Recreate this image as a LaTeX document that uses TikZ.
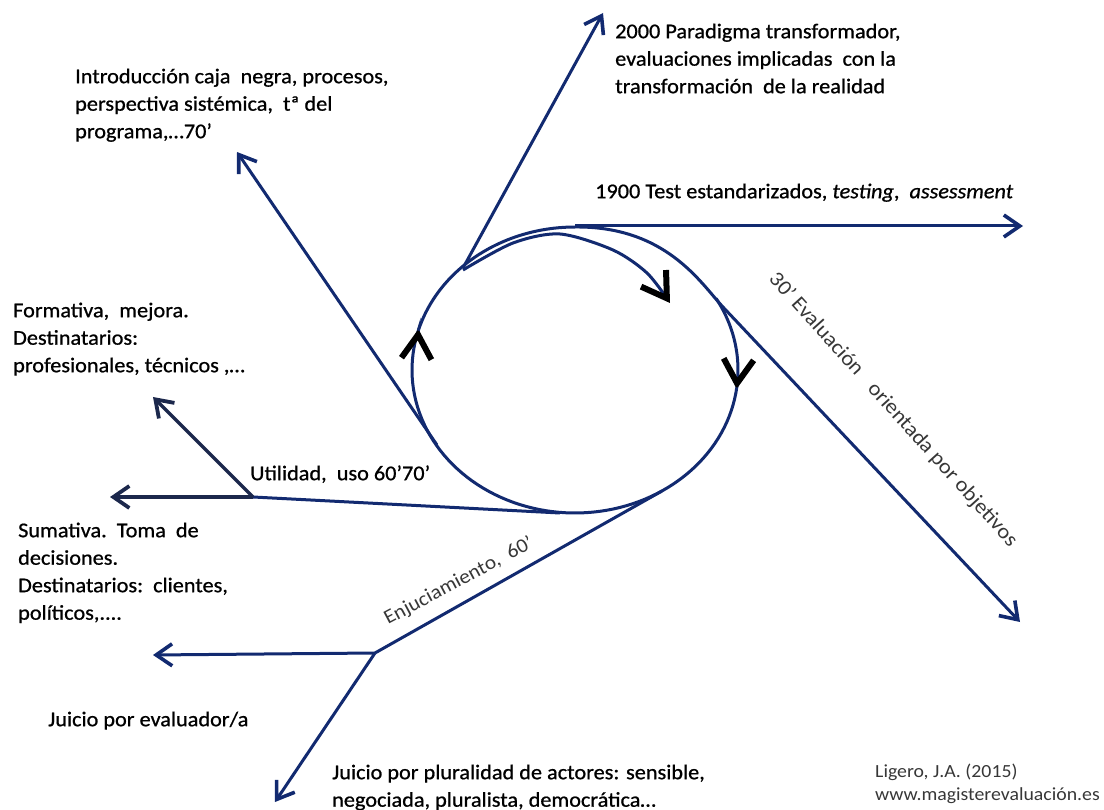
\documentclass[tikz,border=0pt]{standalone}
\usepackage{fontspec}
\setmainfont{Carlito}[FakeStretch=1.06, FakeBold=0.8]
\newfontfamily\ligfont{Carlito}[FakeStretch=1.07]
\usetikzlibrary{arrows.meta}
\definecolor{navy}{RGB}{18,42,112}
\definecolor{darknavy}{RGB}{28,40,76}
\definecolor{txtgray}{RGB}{55,55,55}
\begin{document}
\begin{tikzpicture}[x=1pt,y=-1pt,
  line/.style={draw=navy, line width=3pt},
  arr/.style={line, -{Straight Barb[length=16pt,width=22pt,line width=3.6pt]}},
  darr/.style={draw=darknavy, line width=3.4pt, -{Straight Barb[length=16pt,width=22pt,line width=3.8pt]}},
  chev/.style={-{Straight Barb[length=24pt,width=30pt,line width=6pt,color=black]}},
  txt/.style={font=\fontsize{21}{27.5}\selectfont, align=left, inner sep=0pt, anchor=north west},
  rtxt/.style={font=\ligfont\fontsize{21}{24}\selectfont, text=txtgray, inner sep=0pt}
]
\useasboundingbox (0,0) rectangle (1104,810);

% junctions and ends
\coordinate (c2000) at (463,268);
\coordinate (e2000) at (603,13);
\coordinate (s1900) at (575,226);
\coordinate (e1900) at (1023,226);
\coordinate (top) at (575,227);
\coordinate (s30) at (722,306);
\coordinate (e30) at (1020,622);
\coordinate (s70) at (437,445);
\coordinate (e70) at (237,152);
\coordinate (sUt) at (560,513);
\coordinate (jUt) at (253,497);
\coordinate (eForm) at (153,397);
\coordinate (eSum) at (110,497);
\coordinate (sEn) at (662,491);
\coordinate (jEn) at (375,653);
\coordinate (eJa) at (153,655);
\coordinate (eJb) at (275,802);

% loop (spiral strands)
\draw[line, chev] plot[domain=-30:7, samples=25] ({575+163*cos(\x)},{370+143*sin(\x)}) -- ++(-0.1,1.5);
\draw[line, chev] plot[domain=7:196, samples=80] ({575+163*cos(\x)},{370+143*sin(\x)}) -- ++(0.1,-1.5);
\draw[line] plot[domain=196:270, samples=40] ({575+163*cos(\x)},{370+143*sin(\x)});
\draw[line, chev] plot[smooth] coordinates {(463,270) (513,243) (560,234) (613,250) (647,273) (670,303)};

% tangent lines
\draw[arr] (top) .. controls (665,226) and (700,282) .. (s30) -- (e30);
\draw[arr] (s1900) -- (e1900);
\draw[arr] (c2000) -- (e2000);
\draw[arr] (s70) -- (e70);
\draw[line] (sUt) -- (jUt);
\draw[darr] (jUt) -- (eSum);
\draw[darr] (jUt) -- (eForm);
\draw[line] (sEn) -- (jEn);
\draw[arr] (jEn) -- (eJa);
\draw[arr] (jEn) -- (eJb);

% texts
\node[txt] (t2000) at (615,18.75) {\strut 2000 Paradigma\ transformador,\\ evaluaciones implicadas\ \ con la\\ transformación\ \ de la realidad};
\node[txt] (t1900) at (595,178.75) {\strut 1900 Test estandarizados, \textit{testing},\ \ \textit{assessment}};
\node[txt] (tIntro) at (75,63.75) {\strut Introducción caja\ \ negra, procesos,\\ perspectiva sistémica,\ \ tª del\\ programa,…70’};
\node[txt] (tForm) at (13,297.75) {\strut Formativa,\ \ mejora.\\ Destinatarios:\\ profesionales, técnicos ,…};
\node[txt] (tUtil) at (250,460.75) {\strut Utilidad,\ \ uso 60’70’};
\node[txt] (tSum) at (18,517.75) {\strut Sumativa.\ \ Toma\ \ de\\ decisiones.\\ Destinatarios:\ \ clientes,\\ políticos,....};
\node[txt] (tJa) at (48,706.75) {\strut Juicio por evaluador/a};
\node[txt] (tJb) at (332,759.75) {\strut Juicio\ por pluralidad\ de actores: sensible,\\ negociada,\ pluralista,\ democrática…};
\node[txt, font=\ligfont\fontsize{18.5}{23}\selectfont, text=txtgray] (tLig) at (875,760.9) {\strut Ligero, J.A. (2015)\\ www.magisterevaluación.es};
\node[rtxt, rotate=-48] (t30) at (893,410) {30’ Evaluación\hspace{12pt} orientada por objetivos};
\node[rtxt, font=\ligfont\fontsize{20}{24}\selectfont, anchor=base west, rotate=28] (tEnj) at (388,625) {Enjuciamiento,\ \ 60’};
\end{tikzpicture}
\end{document}
